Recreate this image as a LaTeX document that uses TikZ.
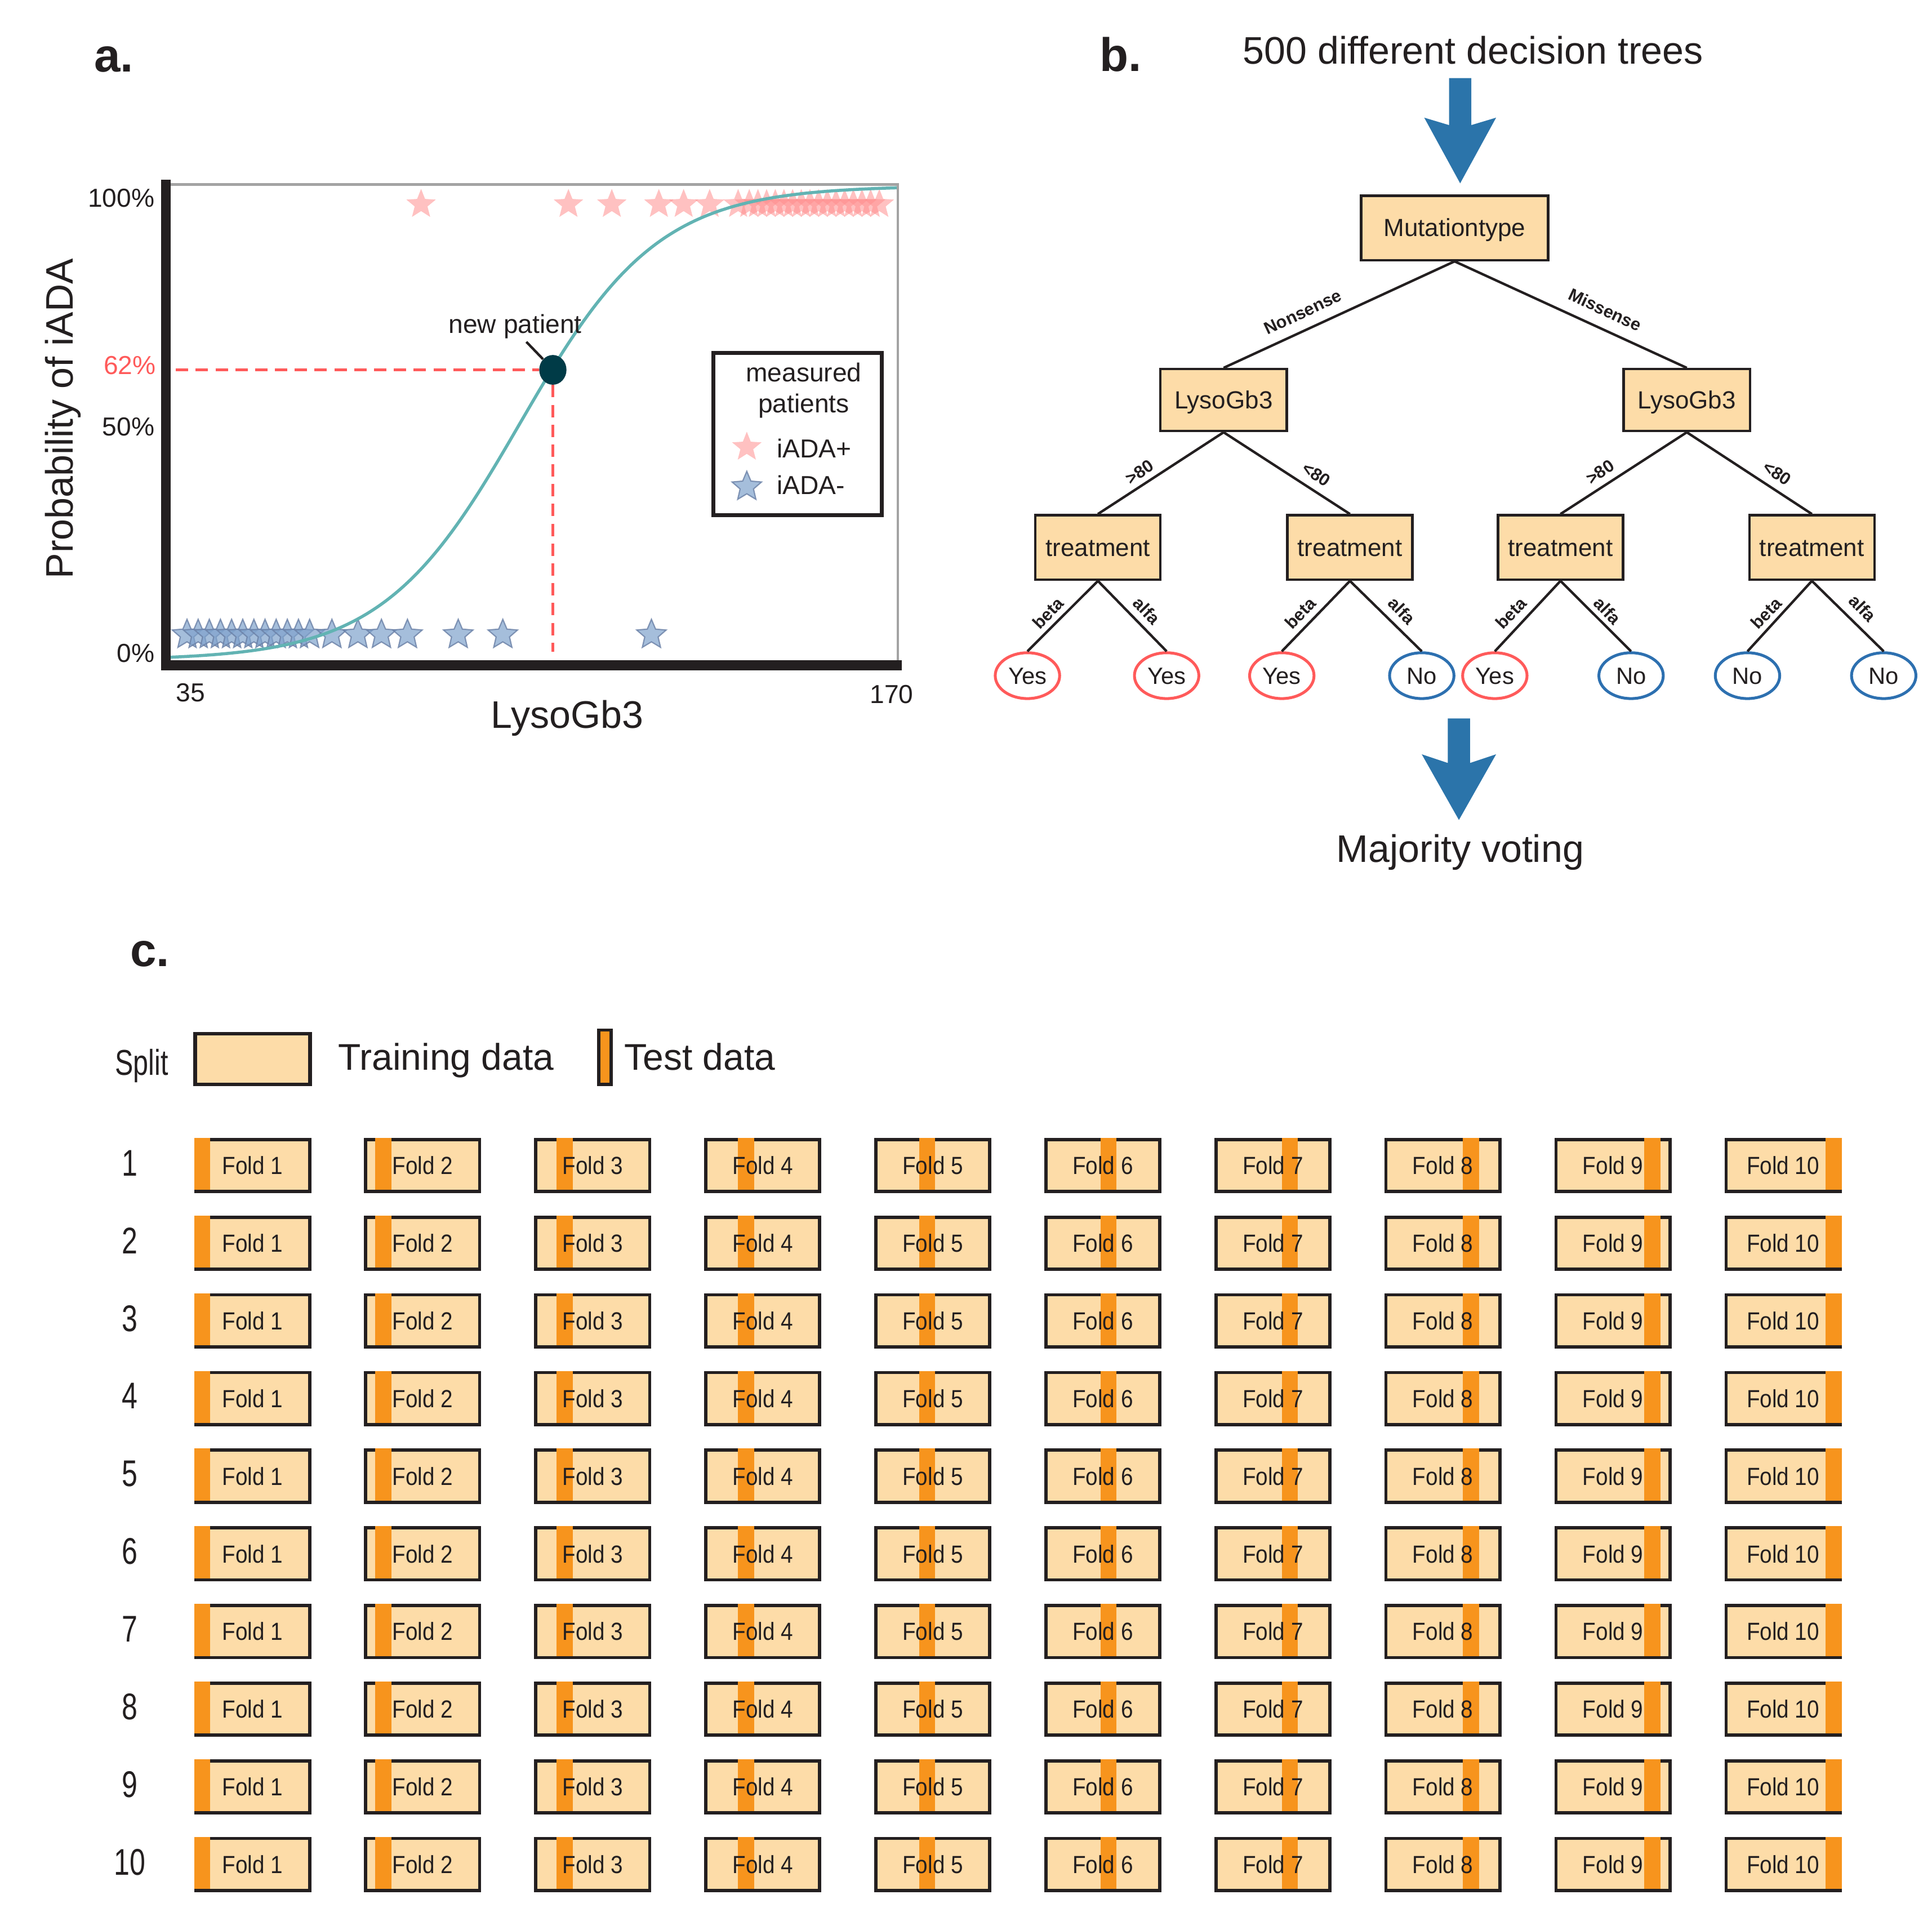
\documentclass[tikz,border=0pt]{standalone}
\usepackage{fontspec}
\setmainfont{Liberation Sans}
\newfontfamily\narrowfont[FakeStretch=0.76]{Liberation Sans}
\newfontfamily\foldfont[FakeStretch=0.88]{Liberation Sans}
\usetikzlibrary{shapes.geometric}
\definecolor{peach}{HTML}{FDDCA8}
\definecolor{stripor}{HTML}{F7941D}
\definecolor{inkc}{HTML}{231F20}
\definecolor{curvecol}{HTML}{62B3B3}
\definecolor{redd}{HTML}{FF5A5A}
\definecolor{arrowblue}{HTML}{2B74AA}
\definecolor{leafblue}{HTML}{2D70B0}
\definecolor{pinkstar}{HTML}{FF8E8E}
\definecolor{bluestar}{HTML}{7FA2CC}
\definecolor{bluestarline}{HTML}{6A80A6}
\definecolor{dotcol}{HTML}{003B47}
\definecolor{framegray}{HTML}{A3A3A3}
\tikzset{
  fs/.style={font=\fontsize{#1}{#1}\selectfont},
  fsb/.style={font=\fontsize{#1}{#1}\selectfont\bfseries},
  fsn/.style={font=\narrowfont\fontsize{#1}{#1}\selectfont},
  txt/.style={inner sep=0pt, text=inkc},
  treebox/.style={draw=inkc, line width=2pt, fill=peach, minimum height=50pt, inner sep=0pt, text=inkc, font=\fontsize{20}{20}\selectfont, text height=14pt, text depth=0pt},
  leaf/.style={ellipse, draw=#1, line width=2.3pt, fill=white, minimum width=52pt, minimum height=37pt, inner sep=0pt, text=inkc, font=\fontsize{19}{19}\selectfont, text height=13.5pt, text depth=0pt},
  edge/.style={draw=inkc, line width=2pt},
  elab/.style={rotate=#1, inner sep=0pt, text=inkc, font=\fontsize{14}{14}\selectfont\bfseries},
  pstar/.style={star, star points=5, star point ratio=2.3, minimum size=25pt, inner sep=0pt, fill=pinkstar, fill opacity=0.55},
  bstar/.style={star, star points=5, star point ratio=2.2, minimum size=25pt, inner sep=0pt, fill=bluestar, draw=bluestarline, line width=1pt, fill opacity=0.7, draw opacity=0.8},
  foldbox/.style={draw=inkc, line width=2.6pt, fill=peach, minimum width=92pt, minimum height=42pt, inner sep=0pt},
  foldlab/.style={inner sep=0pt, text=inkc, font=\foldfont\fontsize{20}{20}\selectfont},
  reddash/.style={redd, line width=2pt, dash pattern=on 10pt off 6pt},
}
\begin{document}
\begin{tikzpicture}[x=1pt, y=-1pt]
\useasboundingbox (0,0) rectangle (1560,1540);

% ---------- panel labels
\node[txt, fsb=38, anchor=base west] (la) at (76,58) {a.};
\node[txt, fsb=38, anchor=base west] (lb) at (888,57.6) {b.};
\node[txt, fsb=38, anchor=base west] (lc) at (105,780) {c.};

% ---------- panel a
\draw[framegray, line width=2pt] (134,149) -- (725,149) -- (725,537);
\foreach \px [count=\i] in {340,459,494,532,552,573,596,605,612,619,626,633,640,647,654,661,668,675,682,689,696,703,710}
  \node[pstar] (ps\i) at (\px,165) {};
\foreach \bx [count=\i] in {151,160,169,178,187,196,205,214,223,232,241,250,268,289,308,329,370,406,526}
  \node[bstar] (bs\i) at (\bx,512.5) {};
\draw[curvecol, line width=2.5pt] plot[domain=134:724, samples=150, smooth] (\x, {533-383/(1+exp(-0.01794*(\x-420)))});
\draw[inkc, line width=8pt] (134,145) -- (134,541);
\draw[inkc, line width=8pt] (130,537) -- (728,537);

\coordinate (hstart) at (142,298.6);
\coordinate (vend) at (446.4,526);
\node[ellipse, fill=dotcol, minimum width=22pt, minimum height=24pt, inner sep=0pt] (np) at (446.4,298.6) {};
\draw[reddash] (hstart) -- (np.west);
\draw[reddash] (np.south) -- (vend);
\node[txt, fs=21, anchor=base] (nptxt) at (416,269) {new patient};
\coordinate (ptr) at (425,276);
\draw[inkc, line width=2pt] (ptr) -- (np.north west);

\node[txt, fs=21, anchor=base east] (t100) at (125,167) {100\%};
\node[txt, fs=21, anchor=base east, text=redd] (t62) at (126,302) {62\%};
\node[txt, fs=21, anchor=base east] (t50) at (125,352) {50\%};
\node[txt, fs=21, anchor=base east] (t0) at (125,534.5) {0\%};
\node[txt, fs=21, anchor=base] (x35) at (154,566.5) {35};
\node[txt, fs=21, anchor=base] (x170) at (720,568) {170};
\node[txt, fs=31, anchor=base] (xlab) at (458,588) {LysoGb3};
\node[txt, fs=31, anchor=base, rotate=90] (ylab) at (59,338) {Probability of iADA};

\node[draw=inkc, line width=3pt, minimum width=136pt, minimum height=131pt, inner sep=0pt] (leg) at (644,350.5) {};
\node[txt, fs=21, anchor=base] (legt1) at (649,308) {measured};
\node[txt, fs=21, anchor=base] (legt2) at (649,333) {patients};
\node[pstar] (legps) at (603,361) {};
\node[bstar] (legbs) at (603,393) {};
\node[txt, fs=21, anchor=base west] (legp) at (627,369.5) {iADA+};
\node[txt, fs=21, anchor=base west] (legm) at (627,399) {iADA-};

% ---------- panel b
\node[txt, fs=31, anchor=base] (btitle) at (1189.5,51.5) {500 different decision trees};
\fill[arrowblue] (1170,63) -- (1188,63) -- (1188,101) -- (1208,95) -- (1179,148) -- (1150,95) -- (1170,101) -- cycle;

\node[treebox, minimum width=151pt, minimum height=52pt] (mut) at (1174.5,184) {Mutationtype};
\node[treebox, minimum width=102pt] (l1) at (988,323) {LysoGb3};
\node[treebox, minimum width=102pt] (l2) at (1362,323) {LysoGb3};
\node[treebox, minimum width=101pt, minimum height=52pt] (t1) at (886.5,442) {treatment};
\node[treebox, minimum width=101pt, minimum height=52pt] (t2) at (1090,442) {treatment};
\node[treebox, minimum width=101pt, minimum height=52pt] (t3) at (1260,442) {treatment};
\node[treebox, minimum width=101pt, minimum height=52pt] (t4) at (1463,442) {treatment};

\node[leaf=redd] (y1) at (829.6,545.5) {Yes};
\node[leaf=redd] (y2) at (942,545.5) {Yes};
\node[leaf=redd] (y3) at (1035,545.5) {Yes};
\node[leaf=leafblue] (n1) at (1148,545.5) {No};
\node[leaf=redd] (y4) at (1207,545.5) {Yes};
\node[leaf=leafblue] (n2) at (1317,545.5) {No};
\node[leaf=leafblue] (n3) at (1411,545.5) {No};
\node[leaf=leafblue] (n4) at (1521,545.5) {No};

\draw[edge] (mut.south) -- (l1.north);
\draw[edge] (mut.south) -- (l2.north);
\draw[edge] (l1.south) -- (t1.north);
\draw[edge] (l1.south) -- (t2.north);
\draw[edge] (l2.south) -- (t3.north);
\draw[edge] (l2.south) -- (t4.north);
\draw[edge] (t1.south) -- (y1.north);
\draw[edge] (t1.south) -- (y2.north);
\draw[edge] (t2.south) -- (y3.north);
\draw[edge] (t2.south) -- (n1.north);
\draw[edge] (t3.south) -- (y4.north);
\draw[edge] (t3.south) -- (n2.north);
\draw[edge] (t4.south) -- (n3.north);
\draw[edge] (t4.south) -- (n4.north);

% edge labels
\node[elab=25] (e1) at (1052,252) {Nonsense};
\node[elab=-25] (e2) at (1296,250) {Missense};
\node[elab=34] (e3) at (920,381) {>80};
\node[elab=-34] (e4) at (1063,383) {<80};
\node[elab=34] (e5) at (1292,381) {>80};
\node[elab=-34] (e6) at (1435,382) {<80};
\node[elab=46] (e7) at (846,495) {beta};
\node[elab=-46] (e8) at (926,493) {alfa};
\node[elab=46] (e9) at (1050,495) {beta};
\node[elab=-46] (e10) at (1132,493) {alfa};
\node[elab=46] (e11) at (1220,495) {beta};
\node[elab=-46] (e12) at (1298,493) {alfa};
\node[elab=46] (e13) at (1426,495) {beta};
\node[elab=-46] (e14) at (1504,491) {alfa};

\fill[arrowblue] (1169,580) -- (1187,580) -- (1187,616) -- (1208,609) -- (1178,662) -- (1148,609) -- (1169,616) -- cycle;
\node[txt, fs=31, anchor=base] (vote) at (1179,696) {Majority voting};

% ---------- panel c
\node[txt, fsn=29, anchor=base] (split) at (114.5,868) {Split};
\node[draw=inkc, line width=3pt, fill=peach, minimum width=93pt, minimum height=41pt, inner sep=0pt] (trbox) at (204,855) {};
\node[txt, fs=30, anchor=base west] (trtxt) at (273,864) {Training data};
\node[draw=inkc, line width=2.5pt, fill=stripor, minimum width=10pt, minimum height=44pt, inner sep=0pt] (tebar) at (488.5,853.5) {};
\node[txt, fs=30, anchor=base west] (tetxt) at (504,864) {Test data};

\foreach \r in {1,...,10}{
  \pgfmathsetmacro{\cy}{941+(\r-1)*62.7}
  \pgfmathsetmacro{\ly}{\cy-2}
  \node[txt, fsn=30] (row\r) at (105,\ly) {\r};
  \foreach \c in {1,...,10}{
    \pgfmathsetmacro{\cx}{204+(\c-1)*137.3}
    \node[foldbox] (f\r-\c) at (\cx,\cy) {};
    \pgfmathsetmacro{\sxa}{\cx-47.3+(\c-1)*9.07}
    \pgfmathsetmacro{\sxb}{\sxa+13}
    \pgfmathsetmacro{\sya}{\cy-22.3}
    \pgfmathsetmacro{\syb}{\cy+19.7}
    \fill[stripor] (\sxa,\sya) rectangle (\sxb,\syb);
    \node[foldlab] (fl\r-\c) at (f\r-\c.center) {Fold \c};
  }
}
\end{tikzpicture}
\end{document}
